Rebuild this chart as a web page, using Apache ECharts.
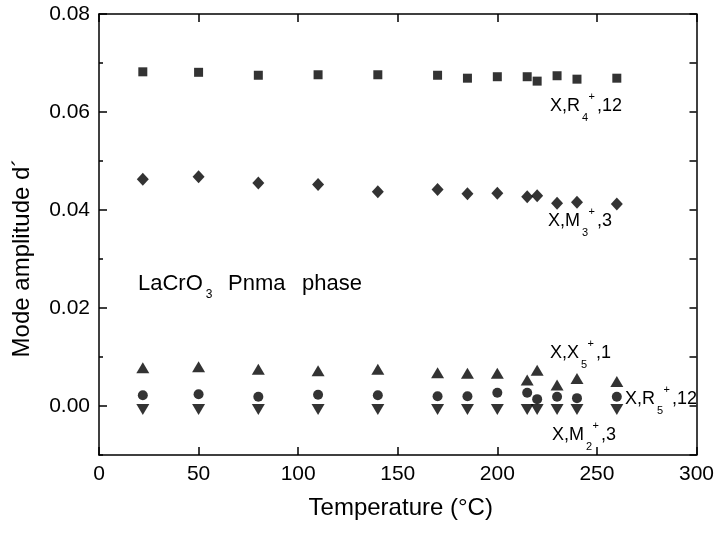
<!DOCTYPE html>
<html>
<head>
<meta charset="utf-8">
<script src="https://cdn.jsdelivr.net/npm/echarts@6/dist/echarts.min.js"></script>
<style>
html,body{margin:0;padding:0;background:#fff;}
#chart{width:717px;height:533px;}
</style>
</head>
<body>
<div id="chart"></div>
<script>
// ---- data ----
const temperature = [22, 50, 80, 110, 140, 170, 185, 200, 215, 220, 230, 240, 260];
const modeR4 = [0.0682, 0.0681, 0.0675, 0.0676, 0.0676, 0.0675, 0.0669, 0.0672, 0.0672, 0.0663, 0.0674, 0.0667, 0.0669];
const modeM3 = [0.0463, 0.0468, 0.0455, 0.0452, 0.0437, 0.0442, 0.0433, 0.0434, 0.0427, 0.0429, 0.0414, 0.0416, 0.0412];
const modeX5 = [0.0078, 0.0080, 0.0075, 0.0072, 0.0075, 0.0068, 0.0067, 0.0067, 0.0053, 0.0073, 0.0043, 0.0056, 0.0050];
const modeR5 = [0.0022, 0.0024, 0.0019, 0.0023, 0.0022, 0.0020, 0.0020, 0.0027, 0.0027, 0.0014, 0.0019, 0.0016, 0.0019];
const modeM2 = [-0.0007, -0.0007, -0.0007, -0.0007, -0.0007, -0.0007, -0.0007, -0.0007, -0.0007, -0.0007, -0.0007, -0.0007, -0.0007];
const xTicks = [0, 50, 100, 150, 200, 250, 300];
const yMajorTicks = [0, 0.02, 0.04, 0.06, 0.08];
const yMinorTicks = [-0.01, 0.01, 0.03, 0.05, 0.07];
const yAllTicks = [-0.01, 0, 0.01, 0.02, 0.03, 0.04, 0.05, 0.06, 0.07, 0.08];

const FONT = '"Liberation Sans", Arial, sans-serif';
const cv = document.createElement('canvas').getContext('2d');
function tw(t, size) { cv.font = size + 'px "Liberation Sans"'; return cv.measureText(t).width; }

function txt(x, baseline, text, size) {
  return {type: 'text', x: x, y: baseline - 0.35 * size, silent: true,
    style: {text: text, fontSize: size, fontFamily: FONT, fill: '#000', align: 'left', verticalAlign: 'middle'}};
}
// label like "X,R" sub "4" sup "+" ",12"
function modeLabel(x, baseline, main, sub, sup, tail) {
  const S = 18, s = 11;
  const els = [];
  els.push(txt(x, baseline, main, S));
  let cx = x + tw(main, S) + 2;
  els.push(txt(cx, baseline + 9.5, sub, s));
  let sx = cx + 6.5;
  els.push(txt(sx, baseline - 11, sup, s));
  let nx = sx + tw(sup, s) + 2;
  els.push(txt(nx, baseline, tail, S));
  return els;
}

const graphics = [];
graphics.push(...modeLabel(550, 112, 'X,R', '4', '+', ',12'));
graphics.push(...modeLabel(548, 227, 'X,M', '3', '+', ',3'));
graphics.push(...modeLabel(550, 359, 'X,X', '5', '+', ',1'));
graphics.push(...modeLabel(625, 405, 'X,R', '5', '+', ',12'));
graphics.push(...modeLabel(552, 441, 'X,M', '2', '+', ',3'));
// LaCrO3 Pnma phase
graphics.push(txt(138, 291.5, 'LaCrO', 22));
graphics.push(txt(138 + tw('LaCrO', 22) + 3, 299, '3', 12));
graphics.push(txt(228, 291.5, 'Pnma', 22));
graphics.push(txt(302, 291.5, 'phase', 22));
// y axis title
graphics.push({type: 'text', x: 22, y: 258, rotation: Math.PI / 2, silent: true,
  style: {text: 'Mode amplitude d\u00B4', fontSize: 24, fontFamily: FONT, fill: '#000', align: 'center', verticalAlign: 'middle'}});

const lineStyle = {color: '#000', width: 1.5};
function pts(ys) { return temperature.map((t, i) => [t, ys[i]]); }
const mk = (name, data, symbol, size, rot) => ({
  name: name, type: 'scatter', data: pts(data), symbol: symbol, symbolSize: size,
  symbolRotate: rot || 0, itemStyle: {color: '#000'}, xAxisIndex: 0, yAxisIndex: 0, silent: true
});

const option = {
  animation: false,
  backgroundColor: '#fff',
  grid: {left: 99, top: 14, right: 19, bottom: 78, containLabel: false},
  xAxis: [
    {type: 'value', position: 'bottom', min: 0, max: 300, interval: 50,
     name: 'Temperature (\u00B0C)', nameLocation: 'middle', nameGap: 41,
     nameTextStyle: {fontSize: 24, fontFamily: FONT, color: '#000', padding: [0, 0, 0, 6]},
     axisLine: {show: true, onZero: false, lineStyle: lineStyle},
     axisTick: {show: true, inside: true, length: 8, lineStyle: lineStyle, customValues: xTicks},
     axisLabel: {fontSize: 21, fontFamily: FONT, color: '#000', margin: 9, customValues: xTicks},
     splitLine: {show: false}},
    {type: 'value', position: 'top', min: 0, max: 300, interval: 50,
     axisLine: {show: true, onZero: false, lineStyle: lineStyle},
     axisTick: {show: true, inside: true, length: 8, lineStyle: lineStyle, customValues: xTicks},
     axisLabel: {show: false}, splitLine: {show: false}}
  ],
  yAxis: [
    {type: 'value', position: 'left', min: -0.01, max: 0.08, interval: 0.01,
     axisLine: {show: true, onZero: false, lineStyle: lineStyle},
     axisTick: {show: true, inside: true, length: 8, lineStyle: lineStyle, customValues: yMajorTicks},
     axisLabel: {fontSize: 21, fontFamily: FONT, color: '#000', margin: 9, customValues: yMajorTicks,
       formatter: v => v.toFixed(2)},
     splitLine: {show: false}},
    {type: 'value', position: 'left', min: -0.01, max: 0.08, interval: 0.01,
     axisLine: {show: false, onZero: false},
     axisTick: {show: true, inside: true, length: 4, lineStyle: lineStyle, customValues: yMinorTicks},
     axisLabel: {show: false}, splitLine: {show: false}},
    {type: 'value', position: 'right', min: -0.01, max: 0.08, interval: 0.01,
     axisLine: {show: true, onZero: false, lineStyle: lineStyle},
     axisTick: {show: true, inside: true, length: 7, lineStyle: lineStyle, customValues: yAllTicks},
     axisLabel: {show: false}, splitLine: {show: false}}
  ],
  series: [
    mk('X,R4+,12', modeR4, 'rect', 9),
    mk('X,M3+,3', modeM3, 'diamond', [12, 13]),
    mk('X,X5+,1', modeX5, 'triangle', [13, 11]),
    mk('X,R5+,12', modeR5, 'circle', 10),
    mk('X,M2+,3', modeM2, 'triangle', [13, 11], 180)
  ],
  graphic: graphics
};
const chart = echarts.init(document.getElementById('chart'), null, {renderer: 'canvas'});
chart.setOption(option);
</script>
</body>
</html>
